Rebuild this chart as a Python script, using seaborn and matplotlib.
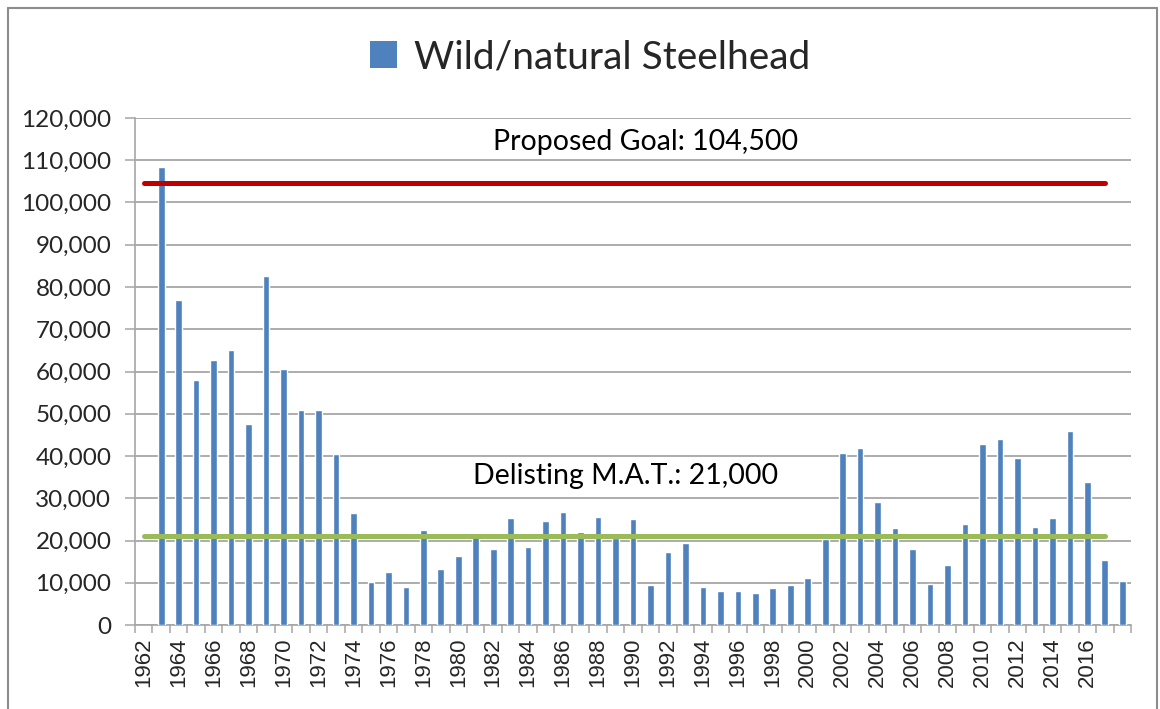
import numpy as np
import pandas as pd
import matplotlib
matplotlib.use("Agg")
import matplotlib.pyplot as plt
import seaborn as sns
from matplotlib.patches import Patch
from matplotlib.lines import Line2D

# ---- data ----
years = [str(y) for y in range(1962, 2019)]
bar_years = [str(y) for y in range(1963, 2019)]
wild_counts = [108400, 77000, 57900, 62700, 65000, 47500, 82500, 60500, 50800, 50800,
               40500, 26500, 10100, 12500, 9000, 22400, 13200, 16400, 21800, 17900,
               25300, 18400, 24500, 26800, 22100, 25600, 20700, 25000, 9400, 17300,
               19300, 9000, 8100, 8100, 7500, 8700, 9400, 11100, 20300, 40700,
               41900, 29200, 22900, 18100, 9600, 14100, 23800, 42800, 44000, 39500,
               23300, 25300, 45800, 33900, 15500, 10500]
line_years = [str(y) for y in range(1962, 2018)]
goal_value = 104500
mat_value = 21000
goal_label = "Proposed Goal: 104,500"
mat_label = "Delisting M.A.T.: 21,000"
series_name = "Wild/natural Steelhead"
yticks = list(range(0, 120001, 10000))
label_years = [str(y) for y in range(1962, 2017, 2)]

BAR = "#4F81BD"
RED = "#C00000"
GREEN = "#9BBB59"
GRID = "#A6A6A6"

sns.set_style("white")
plt.rcParams['font.family'] = ['Lato', 'DejaVu Sans']

W, H = 1160, 709
fig = plt.figure(figsize=(W / 100, H / 100), dpi=100)
L, R, T, B = 135, 1131, 118, 625
ax = fig.add_axes([L / W, 1 - B / H, (R - L) / W, (B - T) / H])

df = pd.DataFrame({"year": bar_years, "count": wild_counts})
sns.barplot(data=df, x="year", y="count", order=years, color=BAR,
            width=0.38, saturation=1, ax=ax, zorder=3)

pos = {y: i for i, y in enumerate(years)}
line_x = [pos[y] for y in line_years]
sns.lineplot(x=line_x, y=[goal_value] * len(line_x), color=RED, linewidth=3.6,
             ax=ax, zorder=4, solid_capstyle="round")
sns.lineplot(x=line_x, y=[mat_value] * len(line_x), color=GREEN, linewidth=3.6,
             ax=ax, zorder=4, solid_capstyle="round")

ax.text(28.7, 114300, goal_label, ha="center", va="center", fontsize=20.5, color="black")
ax.text(27.6, 35300, mat_label, ha="center", va="center", fontsize=20.5, color="black")

ax.set_xlim(-0.5, len(years) - 0.5)
ax.set_ylim(0, 120000)
ax.set_yticks(yticks)
ax.set_yticklabels([f"{v:,}" for v in yticks], fontsize=17.5, color="#262626")
ax.yaxis.grid(True, color=GRID, linewidth=1.3, zorder=0)
ax.set_axisbelow(True)
ax.tick_params(axis="y", length=7, width=1.1, color=GRID, left=True, pad=10)

ax.set_xticks([pos[y] for y in label_years])
ax.set_xticklabels(label_years, rotation=90, fontsize=16,
                   family=["Liberation Sans", "DejaVu Sans"])
ax.set_xticks(np.arange(-0.5, len(years), 1.0), minor=True)
ax.tick_params(axis="x", which="major", length=0, pad=9)
ax.tick_params(axis="x", which="minor", length=6, width=1.1, color=GRID, bottom=True)

ax.set_xlabel("")
ax.set_ylabel("")
for s in ["top", "right"]:
    ax.spines[s].set_visible(False)
for s in ["left", "bottom"]:
    ax.spines[s].set_color(GRID)
    ax.spines[s].set_linewidth(1.2)

leg_handle = Patch(facecolor=BAR, edgecolor="none")
fig.legend([leg_handle], [series_name], loc="center", bbox_to_anchor=(590 / W, 1 - 57 / H),
           frameon=False, fontsize=28, handlelength=0.7, handleheight=0.7, handletextpad=0.45)

# chart border
bx0, by0, bx1 = 8 / W, 1 - 8 / H, 1157 / W
fig.add_artist(Line2D([bx0, bx0], [0, by0], color="#8C8C8C", linewidth=1.5, transform=fig.transFigure))
fig.add_artist(Line2D([bx0, bx1], [by0, by0], color="#8C8C8C", linewidth=1.5, transform=fig.transFigure))
fig.add_artist(Line2D([bx1, bx1], [0, by0], color="#8C8C8C", linewidth=1.5, transform=fig.transFigure))

fig.savefig("out.png", dpi=100)
